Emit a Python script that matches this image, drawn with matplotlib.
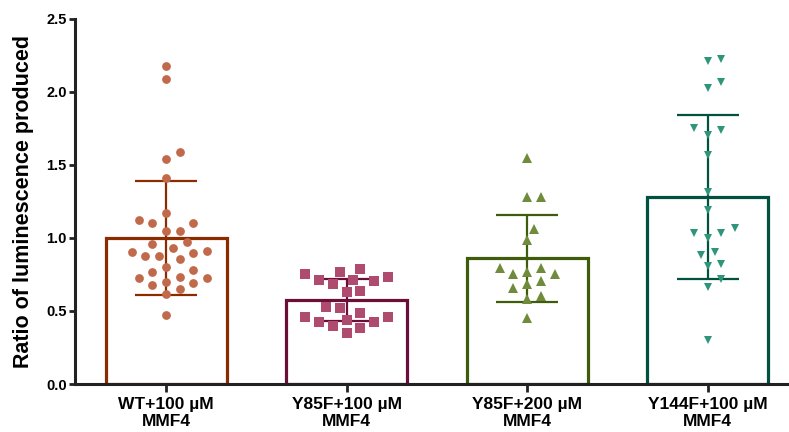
import numpy as np
import matplotlib
matplotlib.use("Agg")
import matplotlib.pyplot as plt

plt.rcParams["font.family"] = ["Liberation Sans", "DejaVu Sans"]

groups = ["WT+100 µM\nMMF4", "Y85F+100 µM\nMMF4", "Y85F+200 µM\nMMF4", "Y144F+100 µM\nMMF4"]

wt_100 = [2.18, 2.09, 1.59, 1.54, 1.41, 1.17, 1.10, 1.10, 1.12, 1.05, 1.05,
          0.96, 0.975, 0.91, 0.895, 0.877, 0.856, 0.877, 0.906, 0.93, 0.783,
          0.735, 0.726, 0.726, 0.767, 0.804, 0.692, 0.648, 0.614, 0.676, 0.70, 0.475]
y85f_100 = [0.788, 0.712, 0.753, 0.685, 0.731, 0.769, 0.705, 0.712, 0.632, 0.639,
            0.523, 0.530, 0.461, 0.461, 0.489, 0.427, 0.397, 0.427, 0.441, 0.386, 0.352]
y85f_200 = [1.546, 1.283, 1.283, 1.062, 0.986, 0.769, 0.753, 0.792, 0.792, 0.753,
            0.703, 0.683, 0.655, 0.605, 0.584, 0.454]
y144f_100 = [2.226, 2.215, 2.07, 2.03, 1.74, 1.755, 1.705, 1.568, 1.313, 1.192, 1.066,
             1.036, 0.998, 1.036, 0.884, 0.906, 0.81, 0.819, 0.717, 0.667, 0.301]

means = [1.00, 0.575, 0.86, 1.28]
sds = [0.39, 0.145, 0.30, 0.56]

values = [wt_100, y85f_100, y85f_200, y144f_100]
markers = ["o", "s", "^", "v"]
marker_sizes = [6.3, 7.0, 6.8, 6.4]
point_colors = ["#c0694b", "#b04b70", "#6f8b3b", "#2f957a"]
bar_colors = ["#8a2c00", "#6b0f3a", "#3e5c0b", "#00513e"]

fig = plt.figure(figsize=(7.89, 4.32), dpi=100)
ax = fig.add_axes([75 / 789, 48 / 432, 714 / 789, 365 / 432])
ax.set_xlim(-0.504, 3.45)
ax.set_ylim(0, 2.5)

x = np.arange(len(groups))
for i in range(len(groups)):
    ax.bar(x[i], means[i], width=0.67, facecolor="white", edgecolor=bar_colors[i],
           linewidth=2.3, zorder=1)
    ax.errorbar(x[i], means[i], yerr=sds[i], fmt="none", ecolor=bar_colors[i],
                elinewidth=1.6, capsize=22, capthick=1.6, zorder=2)


def swarm_offsets(vals, px_per_y, step=6.85, min_dist=12.5):
    # simple beeswarm: offsets in pixels, placed on a grid of half-steps
    order = np.argsort(vals)
    placed = []
    offs = np.zeros(len(vals))
    for idx in order:
        yp = vals[idx] * px_per_y
        k = 0
        while True:
            cands = [0] if k == 0 else [k, -k]
            ok = None
            for c in cands:
                xp = c * step
                if all((xp - px) ** 2 + (yp - py) ** 2 >= min_dist ** 2 for px, py in placed):
                    ok = xp
                    break
            if ok is not None:
                break
            k += 1
        placed.append((ok, yp))
        offs[idx] = ok
    return offs


px_x = ax.transData.transform((1, 0))[0] - ax.transData.transform((0, 0))[0]
px_y = ax.transData.transform((0, 1))[1] - ax.transData.transform((0, 0))[1]
for i, vals in enumerate(values):
    vals = np.array(vals)
    offs = swarm_offsets(vals, px_y) / px_x
    ax.plot(x[i] + offs, vals, linestyle="none", marker=markers[i],
            markersize=marker_sizes[i], color=point_colors[i], markeredgewidth=0,
            zorder=3, clip_on=False)

for s in ["top", "right"]:
    ax.spines[s].set_visible(False)
for s in ["left", "bottom"]:
    ax.spines[s].set_linewidth(2.2)
    ax.spines[s].set_color("#222222")

ax.set_yticks([0, 0.5, 1.0, 1.5, 2.0, 2.5])
ax.set_yticklabels(["0.0", "0.5", "1.0", "1.5", "2.0", "2.5"], fontsize=10.5, fontweight="bold")
ax.set_xticks(x)
ax.set_xticklabels(groups, fontsize=12.5, fontweight="bold", linespacing=1.2)
ax.tick_params(axis="both", direction="out", length=4, width=2, color="#222222", pad=2)
ax.tick_params(axis="x", length=6, pad=3)
ax.set_ylabel("Ratio of luminescence produced", fontsize=15.5, fontweight="bold")
ax.yaxis.set_label_coords(-0.058, 0.5)

fig.savefig("out.png", dpi=100)
